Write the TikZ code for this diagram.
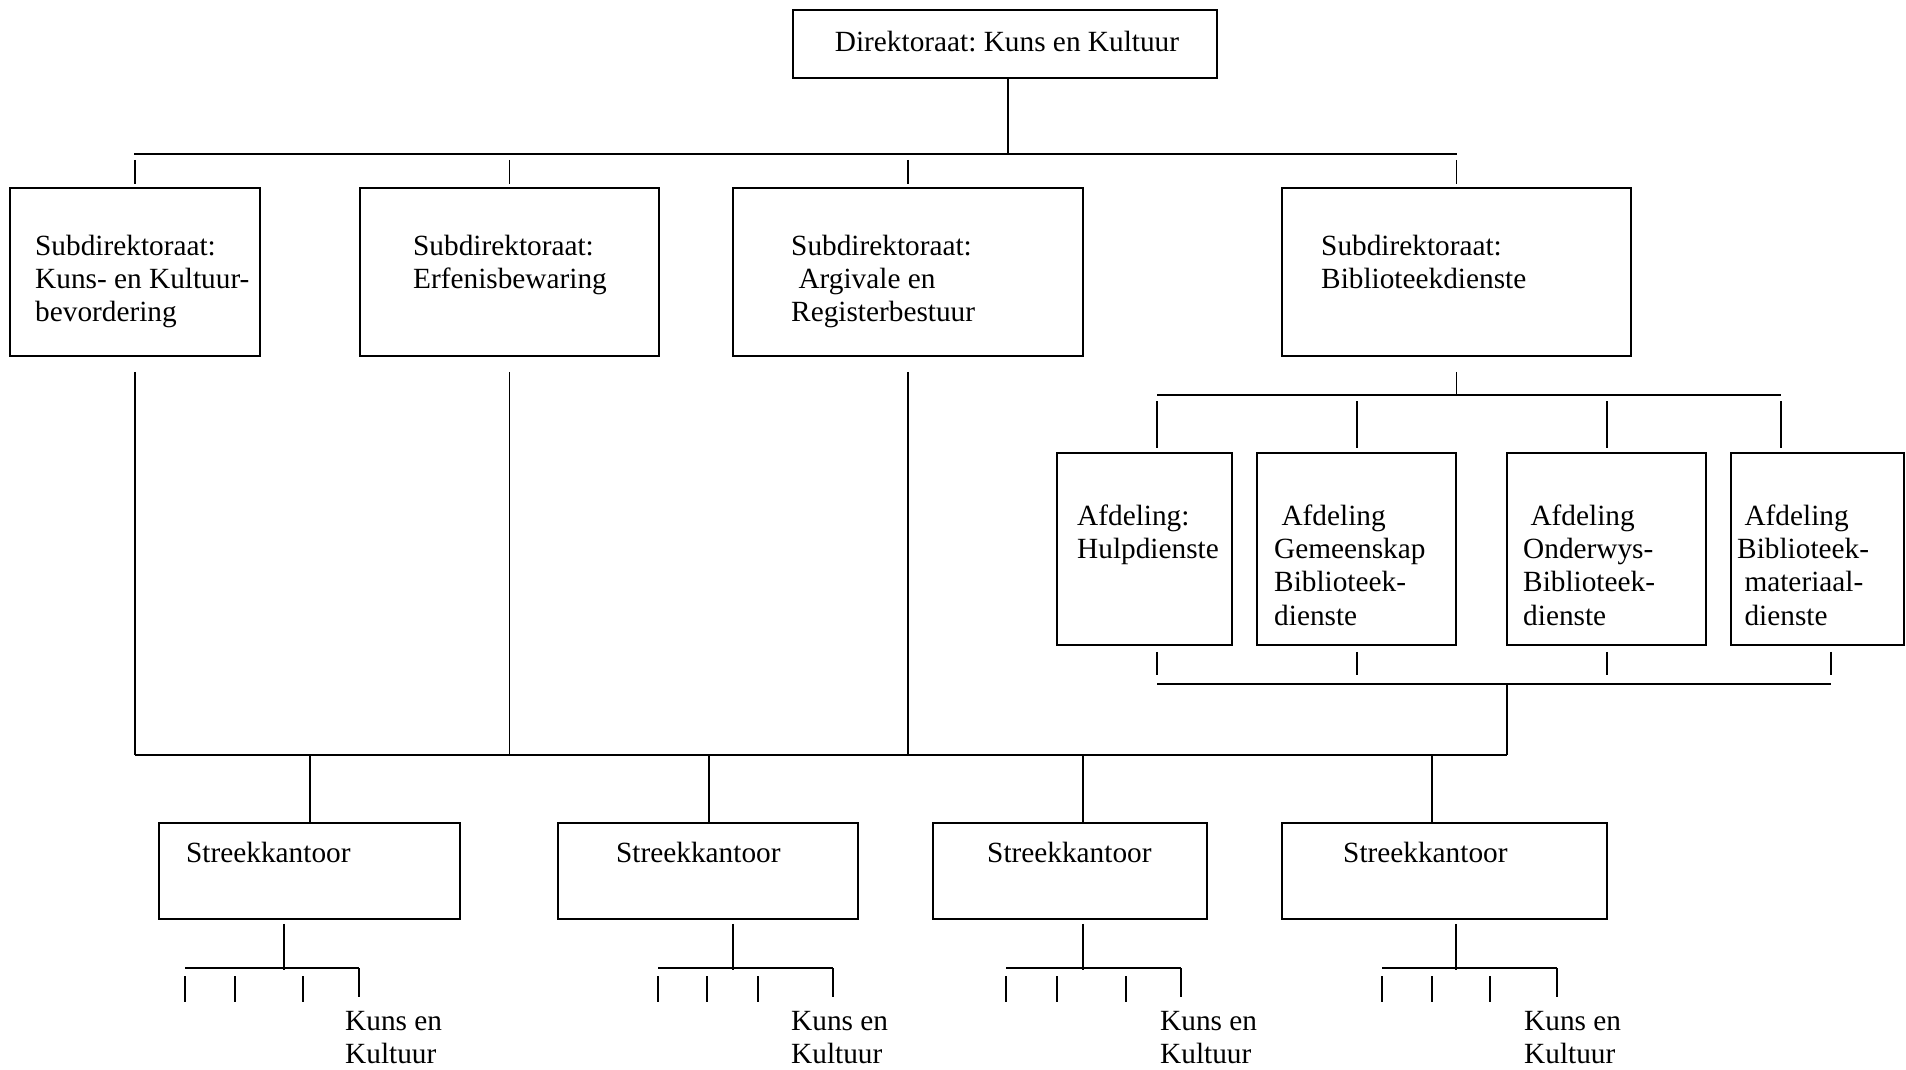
\documentclass[tikz,border=0pt]{standalone}
\usepackage{fontspec}
\setmainfont{Liberation Serif}
\frenchspacing
\begin{document}
\begin{tikzpicture}[x=1pt,y=-1pt,
  box/.style={draw, line width=1.8pt, rectangle, inner sep=0pt},
  lbl/.style={anchor=base west, align=left, inner sep=0pt,
              font=\fontsize{29.3}{33.4}\selectfont},
  link/.style={line width=1.3pt},
  bar/.style={line width=2.2pt}]
\useasboundingbox (0,0) rectangle (1906,1070);

% ---- directorate
\node[box, minimum width=424pt, minimum height=68pt] (dir) at (1005,44) {};
\node[lbl, anchor=base] (dirT) at (1007,52) {Direktoraat: Kuns en Kultuur};

% ---- sub-directorates (text nodes are placed by the baseline of their last line)
\node[box, minimum width=250pt, minimum height=168pt] (sub1) at (135,272) {};
\node[box, minimum width=299pt, minimum height=168pt] (sub2) at (509.5,272) {};
\node[box, minimum width=350pt, minimum height=168pt] (sub3) at (908,272) {};
\node[box, minimum width=349pt, minimum height=168pt] (sub4) at (1456.5,272) {};
\node[lbl] (sub1T) at (35,321.8) {Subdirektoraat:\\Kuns- en Kultuur-\\bevordering};
\node[lbl] (sub2T) at (413,288.4) {Subdirektoraat:\\Erfenisbewaring};
\node[lbl] (sub3T) at (791,321.8) {Subdirektoraat:\\\ Argivale en\\Registerbestuur};
\node[lbl] (sub4T) at (1321,288.4) {Subdirektoraat:\\Biblioteekdienste};

% ---- library divisions
\node[box, minimum width=175pt, minimum height=192pt] (A1) at (1144.5,549) {};
\node[box, minimum width=199pt, minimum height=192pt] (A2) at (1356.5,549) {};
\node[box, minimum width=199pt, minimum height=192pt] (A3) at (1606.5,549) {};
\node[box, minimum width=173pt, minimum height=192pt] (A4) at (1817.5,549) {};
\node[lbl] (A1T) at (1077,558.4) {Afdeling:\\Hulpdienste};
\node[lbl] (A2T) at (1274,625.2) {\ Afdeling\\Gemeenskap\\Biblioteek-\\dienste};
\node[lbl] (A3T) at (1523,625.2) {\ Afdeling\\Onderwys-\\Biblioteek-\\dienste};
\node[lbl] (A4T) at (1737,625.2) {\ Afdeling\\Biblioteek-\\\ materiaal-\\\ dienste};

% ---- regional offices
\node[box, minimum width=301pt, minimum height=96pt] (S1) at (309.5,871) {};
\node[box, minimum width=300pt, minimum height=96pt] (S2) at (708,871) {};
\node[box, minimum width=274pt, minimum height=96pt] (S3) at (1070,871) {};
\node[box, minimum width=325pt, minimum height=96pt] (S4) at (1444.5,871) {};
\node[lbl] (S1T) at (186,862) {Streekkantoor};
\node[lbl] (S2T) at (616,862) {Streekkantoor};
\node[lbl] (S3T) at (987,862) {Streekkantoor};
\node[lbl] (S4T) at (1343,862) {Streekkantoor};

\node[lbl] (K1) at (345,1063.4) {Kuns en\\Kultuur};
\node[lbl] (K2) at (791,1063.4) {Kuns en\\Kultuur};
\node[lbl] (K3) at (1160,1063.4) {Kuns en\\Kultuur};
\node[lbl] (K4) at (1524,1063.4) {Kuns en\\Kultuur};

% ---- top bar
\coordinate (barL) at (134,154);
\coordinate (barR) at (1457,154);
\coordinate (barM) at (1008,154);
\draw[link] (dir.south -| barM) -- (barM);
\draw[bar] (barL) -- (barR);
\foreach \n in {sub1,sub2,sub3,sub4}
  \draw[link, shorten >=3pt] (\n.north |- 0,160) -- (\n.north);

% ---- library bar
\coordinate (midY) at (0,395);
\draw[link, shorten <=15pt] (sub4.south) -- (sub4.south |- midY);
\draw[bar] (1157,395) -- (1781,395);
\foreach \n/\x in {A1/1157,A2/1357,A3/1607,A4/1781}
  \draw[link, shorten >=4pt] (\x,401) -- (\n.north -| \x,0);
\foreach \n/\x in {A1/1157,A2/1357,A3/1607,A4/1831}
  \draw[link, shorten <=6pt] (\n.south -| \x,0) -- (\x,675);
\draw[bar] (1157,684) -- (1831,684);
\coordinate (lowR) at (1507,755);
\draw[link] (1507,684) -- (lowR);

% ---- lower bar
\draw[bar] (sub1.south |- lowR) -- (lowR);
\foreach \n in {sub1,sub2,sub3}
  \draw[link, shorten <=15pt] (\n.south) -- (\n.south |- lowR);
\foreach \n/\x in {S1/310,S2/709,S3/1083,S4/1432}
  \draw[link] (\x,755) -- (\n.north -| \x,0);

% ---- units under each regional office
\foreach \s/\c/\a/\b/\p/\q in {S1/284/185/359/235/303, S2/733/658/833/707/758,
                              S3/1083/1006/1181/1057/1126, S4/1456/1382/1557/1432/1490} {
  \coordinate (\s j) at (\c,970);
  \draw[link, shorten <=4pt] (\s.south -| \s j) -- (\s j);
  \draw[bar] (\a,968) -- (\b,968);
  \foreach \t in {\a,\p,\q} \draw[link] (\t,976) -- (\t,1002);
  \draw[link] (\b,968) -- (\b,997);
}
\end{tikzpicture}
\end{document}
